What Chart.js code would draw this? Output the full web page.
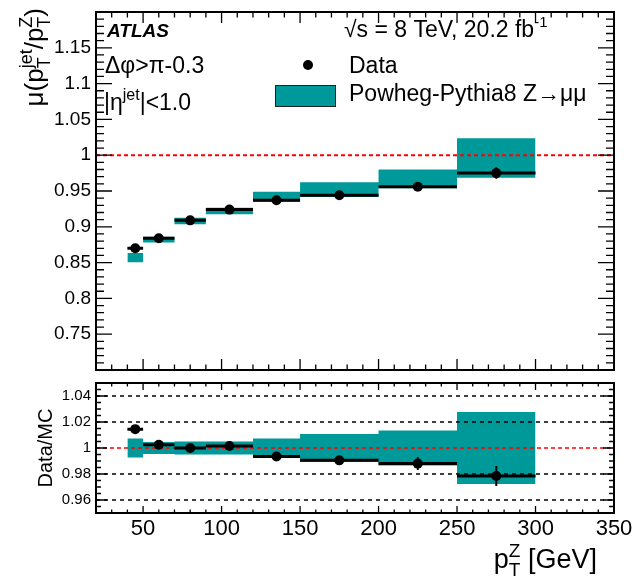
<!DOCTYPE html>
<html>
<head>
<meta charset="utf-8">
<script src="https://cdn.jsdelivr.net/npm/chart.js@4.4.0/dist/chart.umd.min.js"></script>
<style>
    body { margin: 0; background: #fff; }
    #wrap { position: relative; width: 644px; height: 580px; }
    canvas { position: absolute; left: 0; }
    #top { top: 0; }
    #bot { top: 376px; }
</style>
</head>
<body>
<div id="wrap">
    <canvas id="top" width="644" height="378"></canvas>
    <canvas id="bot" width="644" height="204"></canvas>
</div>
<script>
// pT^Z bins [GeV]
var binEdges = [40, 50, 70, 90, 120, 150, 200, 250, 300];
var binCenters = [45, 60, 80, 105, 135, 175, 225, 275];

// upper panel: mean of pT^jet / pT^Z
var dataMu = [0.870, 0.884, 0.909, 0.924, 0.937, 0.944, 0.956, 0.975];
var dataMuErr = [0.001, 0.001, 0.001, 0.001, 0.002, 0.003, 0.005, 0.008];
var mcMu = [0.857, 0.882, 0.908, 0.922, 0.942, 0.952, 0.967, 0.996];
var mcRelErr = [0.0074, 0.0046, 0.005, 0.005, 0.0074, 0.0108, 0.0135, 0.0277];

// lower panel: Data/MC
var ratio = [1.0145, 1.0025, 1.0000, 1.0015, 0.9935, 0.9905, 0.9880, 0.9785];
var ratioErr = [0.0015, 0.0015, 0.0015, 0.0015, 0.002, 0.003, 0.0049, 0.0077];
var ratioGrid = [0.96, 0.98, 1.02, 1.04];

// tick labels
var xTicks = [50, 100, 150, 200, 250, 300, 350];
var topYTicks = [0.75, 0.8, 0.85, 0.9, 0.95, 1, 1.05, 1.1, 1.15];
var botYTicks = [0.96, 0.98, 1, 1.02, 1.04];

var FAM = '"Liberation Sans", Arial, sans-serif';
var TEAL = '#009999';

//---------------------------- helpers ---------------

function stepEdge(vals) {
    var pts = [];
    for (var i = 0; i < vals.length; i++) pts.push({ x: binEdges[i], y: vals[i] });
    pts.push({ x: binEdges[vals.length], y: vals[vals.length - 1] });
    return pts;
}

function xBars(vals) {
    var pts = [];
    vals.forEach(function (v, i) {
        pts.push({ x: binEdges[i], y: v }, { x: binEdges[i + 1], y: v }, { x: binEdges[i + 1], y: null });
    });
    return pts;
}

function yBars(vals, errs) {
    var pts = [];
    vals.forEach(function (v, i) {
        var c = binCenters[i];
        pts.push({ x: c, y: v - errs[i] }, { x: c, y: v + errs[i] }, { x: c, y: null });
    });
    return pts;
}

function points(vals) {
    return vals.map(function (v, i) { return { x: binCenters[i], y: v }; });
}

function hline(ys) {
    var pts = [];
    ys.forEach(function (y) {
        pts.push({ x: 20, y: y }, { x: 350, y: y }, { x: 350, y: null });
    });
    return pts;
}

// text with stacked sub/superscripts, ROOT style
function drawRich(ctx, parts, x, y, main, align) {
    var ws = [], w = 0;
    parts.forEach(function (p) {
        var pw;
        if (p.t !== undefined) {
            ctx.font = main + 'px ' + FAM;
            pw = ctx.measureText(p.t).width;
        } else {
            ctx.font = p.size + 'px ' + FAM;
            pw = Math.max(ctx.measureText(p.sub || '').width, ctx.measureText(p.sup || '').width);
        }
        ws.push(pw);
        w += pw;
    });
    var cx = align === 'right' ? x - w : x;
    ctx.textAlign = 'left';
    ctx.textBaseline = 'alphabetic';
    parts.forEach(function (p, i) {
        if (p.t !== undefined) {
            ctx.font = main + 'px ' + FAM;
            ctx.fillText(p.t, cx, y);
        } else {
            ctx.font = p.size + 'px ' + FAM;
            if (p.sup) ctx.fillText(p.sup, cx, y - main * 0.42);
            if (p.sub) ctx.fillText(p.sub, cx, y + main * 0.28);
        }
        cx += ws[i];
    });
}

// frame with inward ticks
function framePlugin(o) {
    return {
        id: 'frame',
        afterDatasetsDraw: function (chart) {
            var ctx = chart.ctx, a = chart.chartArea;
            var xs = chart.scales.x, ys = chart.scales.y;
            ctx.save();
            ctx.strokeStyle = '#000';
            ctx.lineWidth = 1.3;
            ctx.beginPath();
            for (var v = 20; v <= 350; v += 10) {
                var px = xs.getPixelForValue(v);
                var len = v % 50 === 0 ? o.xMajor : o.xMinor;
                ctx.moveTo(px, a.bottom); ctx.lineTo(px, a.bottom - len);
                ctx.moveTo(px, a.top); ctx.lineTo(px, a.top + len);
            }
            var n = Math.round((ys.max - ys.min) / o.yMinorStep);
            for (var i = 0; i <= n; i++) {
                var val = ys.min + i * o.yMinorStep;
                var r = val / o.yMajorStep;
                var l = Math.abs(r - Math.round(r)) < 1e-6 ? o.yMajor : o.yMinor;
                var py = ys.getPixelForValue(val);
                ctx.moveTo(a.left, py); ctx.lineTo(a.left + l, py);
                ctx.moveTo(a.right, py); ctx.lineTo(a.right - l, py);
            }
            ctx.stroke();
            ctx.lineWidth = 2;
            ctx.strokeRect(a.left, a.top, a.right - a.left, a.bottom - a.top);
            ctx.restore();
        }
    };
}

function noPad(s) {
    s.paddingTop = 0; s.paddingBottom = 0; s.paddingLeft = 0; s.paddingRight = 0;
}

//---------------------------- upper panel ---------------

var topText = {
    id: 'topText',
    afterDraw: function (chart) {
        var ctx = chart.ctx;
        ctx.save();
        ctx.fillStyle = '#000';
        ctx.textAlign = 'left';
        ctx.textBaseline = 'alphabetic';
        ctx.font = 'italic bold 19px ' + FAM;
        ctx.fillText('ATLAS', 107, 37);

        drawRich(ctx, [{ t: '\u221As = 8 TeV, 20.2 fb' }, { sup: '-1', size: 15 }], 344, 37, 23, 'left');
        drawRich(ctx, [{ t: '\u0394\u03C6>\u03C0-0.3' }], 105, 73, 23, 'left');
        drawRich(ctx, [{ t: '|\u03B7' }, { sup: 'jet', size: 16 }, { t: '|<1.0' }], 104, 110, 23, 'left');

        // legend
        ctx.beginPath();
        ctx.arc(308, 65, 5, 0, Math.PI * 2);
        ctx.fill();
        drawRich(ctx, [{ t: 'Data' }], 349, 73, 23, 'left');
        ctx.fillStyle = TEAL;
        ctx.fillRect(275, 85, 60, 21);
        ctx.strokeStyle = '#222';
        ctx.lineWidth = 1;
        ctx.strokeRect(275.5, 85.5, 60, 21);
        ctx.fillStyle = '#000';
        drawRich(ctx, [{ t: 'Powheg-Pythia8 Z\u2192\u03BC\u03BC' }], 349, 101, 23, 'left');

        // y title
        ctx.translate(43, 8);
        ctx.rotate(-Math.PI / 2);
        drawRich(ctx, [
            { t: '\u03BC(p' }, { sub: 'T', sup: 'jet', size: 18 },
            { t: '/p' }, { sub: 'T', sup: 'Z', size: 18 }, { t: ')' }
        ], 0, 0, 26, 'right');
        ctx.restore();
    }
};

var topChart = new Chart(document.getElementById('top'), {
    type: 'line',
    data: {
        datasets: [
            { data: stepEdge(mcMu.map(function (m, i) { return m * (1 + mcRelErr[i]); })), stepped: 'before', borderWidth: 0, borderColor: 'rgba(0,0,0,0)', pointRadius: 0, fill: false, order: 5 },
            { data: stepEdge(mcMu.map(function (m, i) { return m * (1 - mcRelErr[i]); })), stepped: 'before', borderWidth: 0, borderColor: 'rgba(0,0,0,0)', pointRadius: 0, fill: '-1', backgroundColor: TEAL, order: 5 },
            { data: hline([1]), borderColor: '#ff0000', borderWidth: 2, borderDash: [4, 3], pointRadius: 0, fill: false, order: 3 },
            { data: xBars(dataMu), borderColor: '#000', borderWidth: 3, pointRadius: 0, fill: false, order: 2 },
            { data: yBars(dataMu, dataMuErr), borderColor: '#000', borderWidth: 2, pointRadius: 0, fill: false, order: 1 },
            { data: points(dataMu), showLine: false, pointRadius: 5, pointBackgroundColor: '#000', pointBorderWidth: 0, order: 0 }
        ]
    },
    options: {
        responsive: false,
        animation: false,
        spanGaps: false,
        layout: { padding: { left: 0, right: 30, top: 12, bottom: 8 } },
        plugins: { legend: { display: false }, tooltip: { enabled: false } },
        scales: {
            x: { type: 'linear', min: 20, max: 350, display: false },
            y: {
                type: 'linear', min: 0.7, max: 1.2,
                afterBuildTicks: function (s) { s.ticks = topYTicks.map(function (v) { return { value: v }; }); },
                afterFit: function (s) { s.width = 96; noPad(s); },
                grid: { display: false, drawTicks: false },
                border: { display: false },
                ticks: { color: '#000', padding: 5, autoSkip: false, font: { size: 19, family: FAM }, callback: function (v) { return String(v); } }
            }
        }
    },
    plugins: [framePlugin({ xMajor: 11, xMinor: 5.5, yMajor: 16, yMinor: 8, yMajorStep: 0.05, yMinorStep: 0.01 }), topText]
});

//---------------------------- lower panel ---------------

var botText = {
    id: 'botText',
    afterDraw: function (chart) {
        var ctx = chart.ctx;
        ctx.save();
        ctx.fillStyle = '#000';
        drawRich(ctx, [{ t: 'p' }, { sub: 'T', sup: 'Z', size: 19 }, { t: ' [GeV]' }], 597, 192, 27, 'right');
        ctx.translate(46, 72);
        ctx.rotate(-Math.PI / 2);
        ctx.font = '20px ' + FAM;
        ctx.textAlign = 'center';
        ctx.textBaseline = 'middle';
        ctx.fillText('Data/MC', 0, 0);
        ctx.restore();
    }
};

var botChart = new Chart(document.getElementById('bot'), {
    type: 'line',
    data: {
        datasets: [
            { data: stepEdge(mcRelErr.map(function (e) { return 1 + e; })), stepped: 'before', borderWidth: 0, borderColor: 'rgba(0,0,0,0)', pointRadius: 0, fill: false, order: 5 },
            { data: stepEdge(mcRelErr.map(function (e) { return 1 - e; })), stepped: 'before', borderWidth: 0, borderColor: 'rgba(0,0,0,0)', pointRadius: 0, fill: '-1', backgroundColor: TEAL, order: 5 },
            { data: hline(ratioGrid), borderColor: '#000', borderWidth: 1.5, borderDash: [4, 4], pointRadius: 0, fill: false, order: 4 },
            { data: hline([1]), borderColor: '#ff0000', borderWidth: 1.5, borderDash: [4, 3], pointRadius: 0, fill: false, order: 3 },
            { data: xBars(ratio), borderColor: '#000', borderWidth: 3, pointRadius: 0, fill: false, order: 2 },
            { data: yBars(ratio, ratioErr), borderColor: '#000', borderWidth: 2, pointRadius: 0, fill: false, order: 1 },
            { data: points(ratio), showLine: false, pointRadius: 5, pointBackgroundColor: '#000', pointBorderWidth: 0, order: 0 }
        ]
    },
    options: {
        responsive: false,
        animation: false,
        spanGaps: false,
        layout: { padding: { left: 0, right: 30, top: 7, bottom: 0 } },
        plugins: { legend: { display: false }, tooltip: { enabled: false } },
        scales: {
            x: {
                type: 'linear', min: 20, max: 350,
                afterBuildTicks: function (s) { s.ticks = xTicks.map(function (v) { return { value: v }; }); },
                afterFit: function (s) { s.height = 67; noPad(s); },
                grid: { display: false, drawTicks: false },
                border: { display: false },
                ticks: { color: '#000', padding: 3, autoSkip: false, maxRotation: 0, font: { size: 22, family: FAM } }
            },
            y: {
                type: 'linear', min: 0.95, max: 1.05,
                afterBuildTicks: function (s) { s.ticks = botYTicks.map(function (v) { return { value: v }; }); },
                afterFit: function (s) { s.width = 96; noPad(s); },
                grid: { display: false, drawTicks: false },
                border: { display: false },
                ticks: { color: '#000', padding: 5, autoSkip: false, font: { size: 15, family: FAM }, callback: function (v) { return String(v); } }
            }
        }
    },
    plugins: [framePlugin({ xMajor: 7, xMinor: 3.5, yMajor: 11, yMinor: 5, yMajorStep: 0.02, yMinorStep: 0.005 }), botText]
});
</script>
</body>
</html>
